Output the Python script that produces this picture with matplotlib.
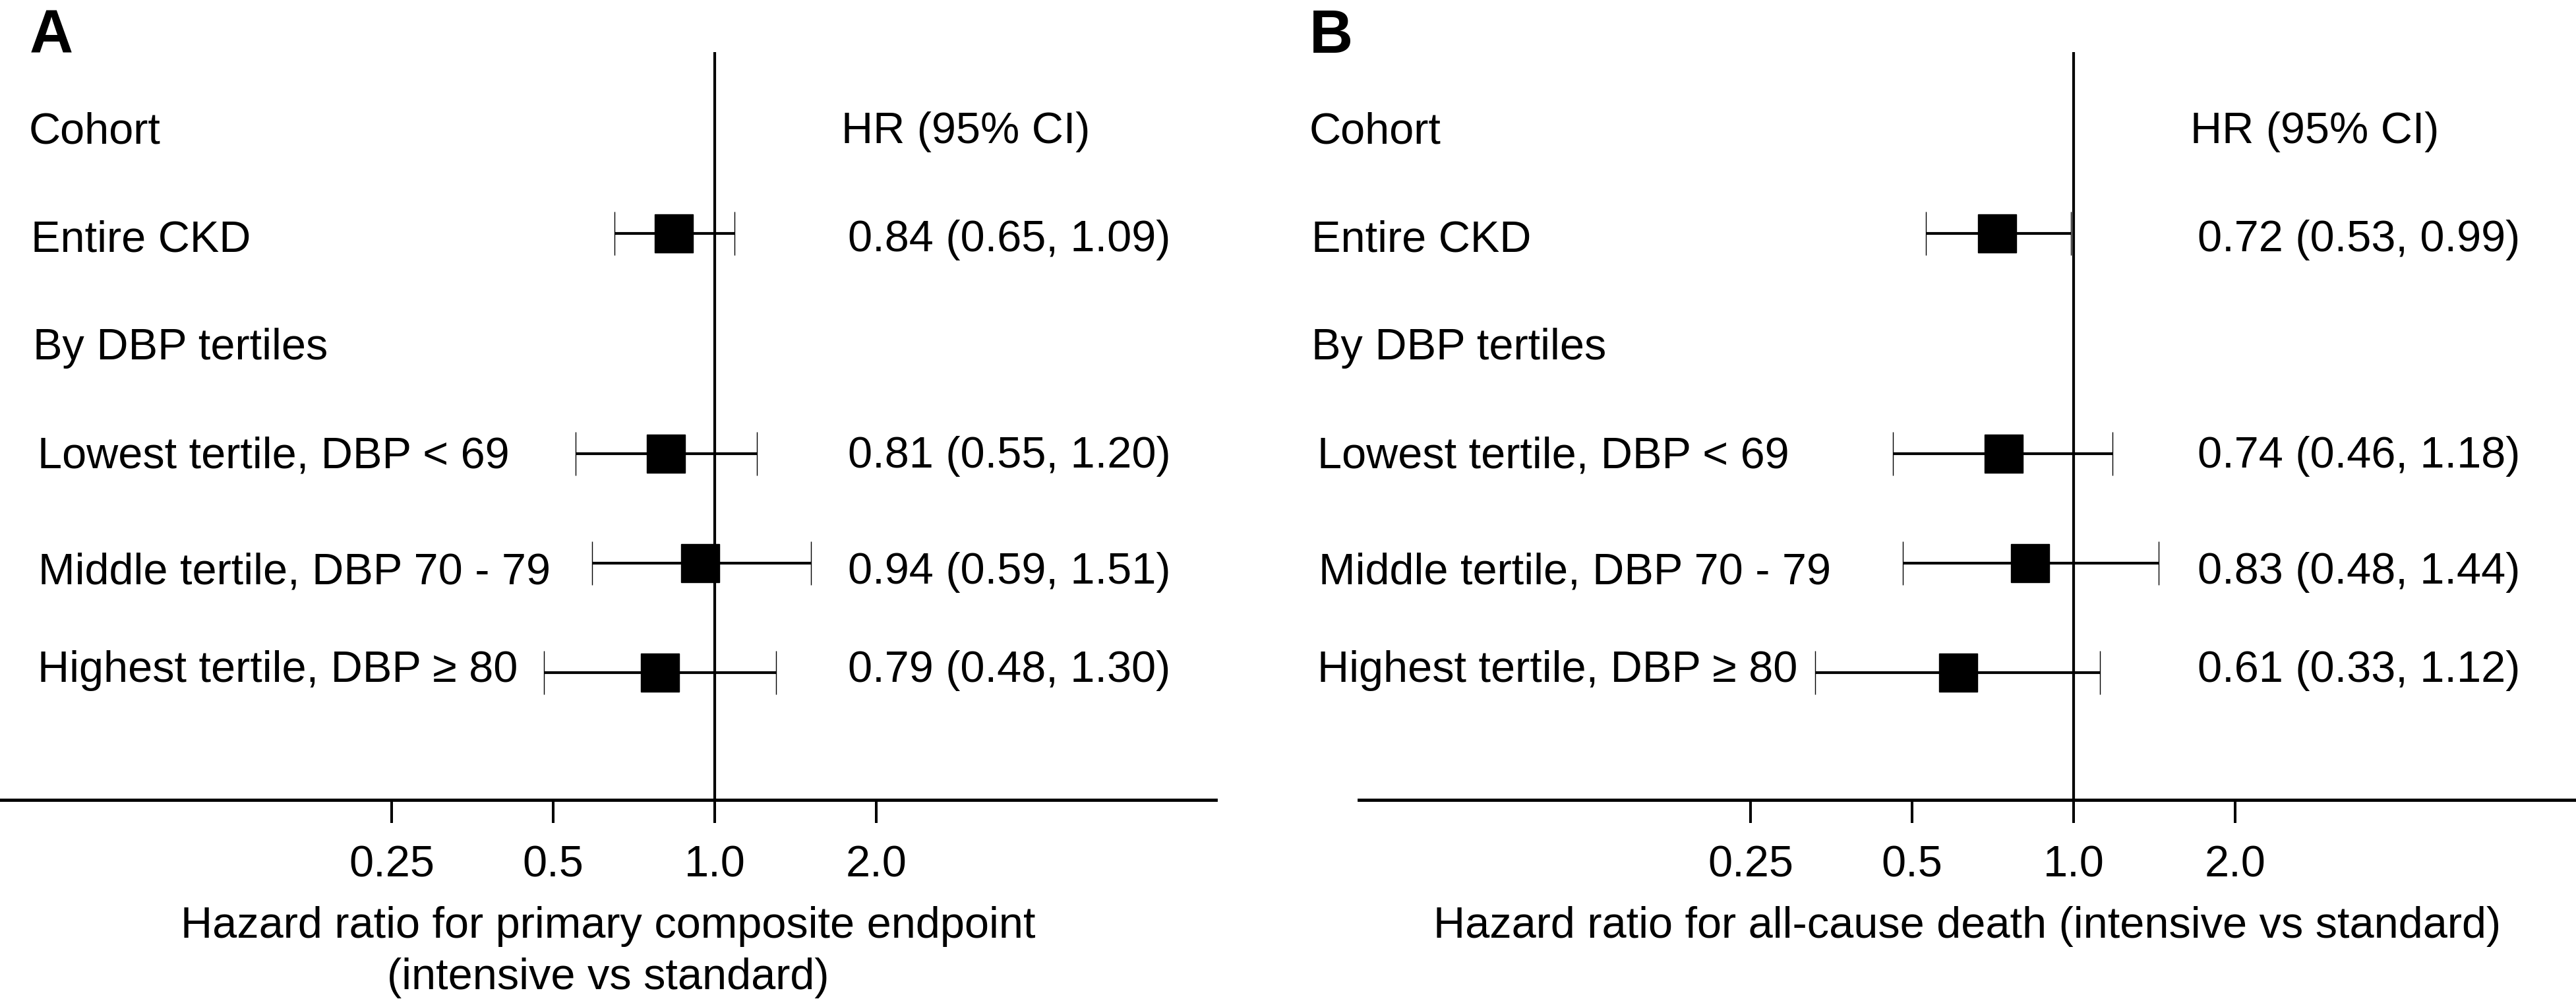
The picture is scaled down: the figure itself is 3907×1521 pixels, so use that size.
"""Forest plots: intensive vs standard BP control in CKD, by DBP tertile."""

import matplotlib.pyplot as plt
from matplotlib.ticker import NullLocator
from matplotlib.transforms import blended_transform_factory


plt.rcParams["font.family"] = ["Liberation Sans", "DejaVu Sans"]

W, H = 3907, 1521  # output size in pixels (dpi 100)

ROWS = [
    "Cohort",
    "Entire CKD",
    "By DBP tertiles",
    "Lowest tertile, DBP < 69",
    "Middle tertile, DBP 70 - 79",
    "Highest tertile, DBP \u2265 80",
]
EST_ROWS = [1, 3, 4, 5]  # rows that carry an estimate
TICKS = [0.25, 0.5, 1.0, 2.0]
TICK_LABELS = ["0.25", "0.5", "1.0", "2.0"]

# panel A: primary composite endpoint
HR_A = [0.84, 0.81, 0.94, 0.79]
LO_A = [0.65, 0.55, 0.59, 0.48]
HI_A = [1.09, 1.20, 1.51, 1.30]
XLABEL_A = ["Hazard ratio for primary composite endpoint", "(intensive vs standard)"]

# panel B: all-cause death
HR_B = [0.72, 0.74, 0.83, 0.61]
LO_B = [0.53, 0.46, 0.48, 0.33]
HI_B = [0.99, 1.18, 1.44, 1.12]
XLABEL_B = ["Hazard ratio for all-cause death (intensive vs standard)"]

# layout, in pixels from the top-left corner
TEXT_Y = [193, 357, 521, 685, 861, 1010]   # centre of each row's text
MARK_Y = [354, 688, 854, 1020]             # centre of each estimate
AX_TOP, AX_BOTTOM = 79, 1213
PX_PER_DOUBLING = 245
ONE_OFFSET = 1084                          # x of HR = 1 from the axis start
FS = 48
HALF_CAP = 24


def fx(x):
    return x / W


def fy(y):
    return 1 - y / H


def panel(fig, letter, hr, lo, hi, xlabel, ax_left, ax_right, text_x, letter_x, head_x, val_x):
    ax = fig.add_axes([fx(ax_left), fy(AX_BOTTOM), (ax_right - ax_left) / W, (AX_BOTTOM - AX_TOP) / H])
    ax.set_xscale("log", base=2)
    ax.set_xlim(2 ** (-ONE_OFFSET / PX_PER_DOUBLING), 2 ** ((ax_right - ax_left - ONE_OFFSET) / PX_PER_DOUBLING))
    ax.set_ylim(AX_BOTTOM, AX_TOP)
    ax.patch.set_alpha(0)
    for side in ["top", "left", "right"]:
        ax.spines[side].set_visible(False)
    ax.spines["bottom"].set_linewidth(3.5)
    ax.set_yticks([])
    ax.set_xticks(TICKS)
    ax.xaxis.set_minor_locator(NullLocator())
    ax.tick_params(axis="x", length=25, width=2.9, labelbottom=False)

    ax.axvline(1.0, color="black", lw=3.0, zorder=1)
    lower = [h - l for h, l in zip(hr, lo)]
    upper = [u - h for h, u in zip(hr, hi)]
    ax.errorbar(hr, MARK_Y, xerr=[lower, upper], fmt="s", ms=42, mfc="black", mec="black", mew=1,
                ecolor="black", elinewidth=3.0, capsize=24, capthick=3.0, zorder=3)

    trans = blended_transform_factory(ax.transData, fig.transFigure)
    for t, lab in zip(TICKS, TICK_LABELS):
        ax.text(t, fy(1330), lab, transform=trans, ha="center", va="baseline", fontsize=FS)

    mid = fx((ax_left + ax_right) / 2)
    for k, line in enumerate(xlabel):
        fig.text(mid, fy(1422 + 78 * k), line, ha="center", va="baseline", fontsize=FS)

    fig.text(fx(letter_x), fy(80), letter, fontsize=66, fontweight="bold", va="baseline")
    for label, x, y in zip(ROWS, text_x, TEXT_Y):
        fig.text(fx(x), fy(y + HALF_CAP), label, va="baseline", fontsize=FS)
    fig.text(fx(head_x), fy(TEXT_Y[0] + HALF_CAP), "HR (95% CI)", va="baseline", fontsize=FS)
    for i, h, l, u in zip(EST_ROWS, hr, lo, hi):
        fig.text(fx(val_x), fy(TEXT_Y[i] + HALF_CAP), f"{h:.2f} ({l:.2f}, {u:.2f})", va="baseline", fontsize=FS)


fig = plt.figure(figsize=(W / 100, H / 100), dpi=100)
panel(fig, "A", HR_A, LO_A, HI_A, XLABEL_A, 0, 1844,
      [44, 47, 50, 57, 58, 57], 45, 1276, 1286)
panel(fig, "B", HR_B, LO_B, HI_B, XLABEL_B, 2061, W,
      [1986, 1989, 1989, 1998, 2000, 1998], 1986, 3322, 3333)
fig.savefig("out.png", dpi=100)
